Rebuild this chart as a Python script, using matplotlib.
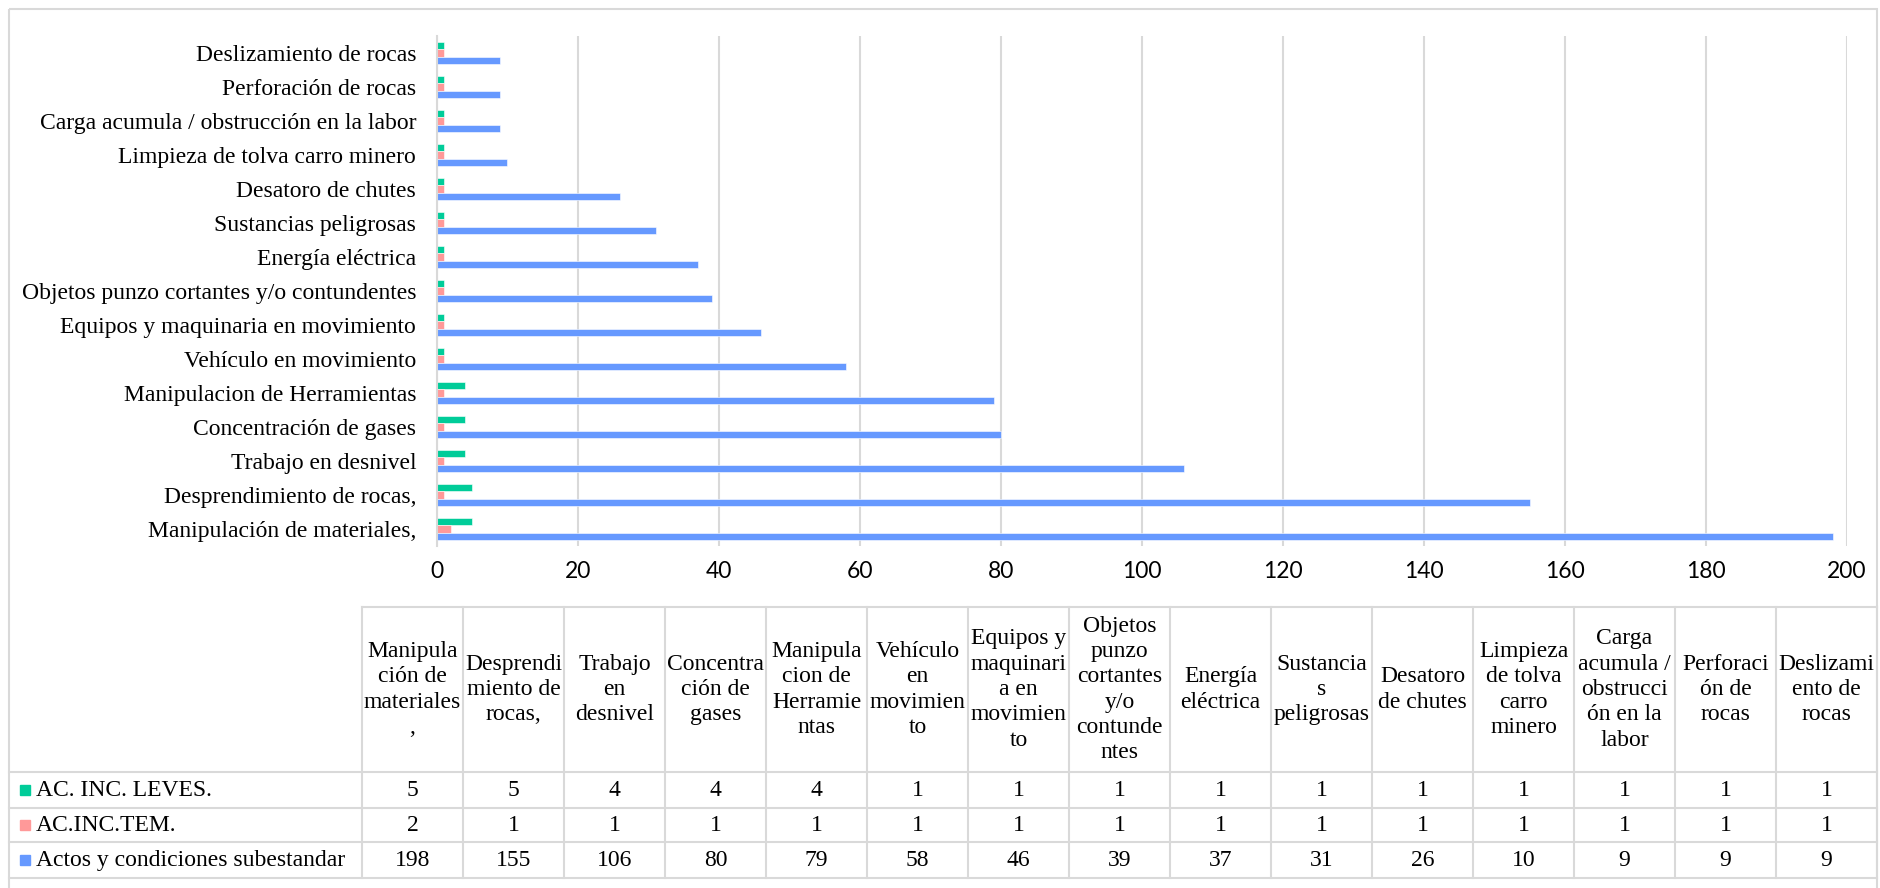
import numpy as np
import matplotlib.pyplot as plt
from matplotlib.patches import Rectangle

# Datos por tipo de peligro
categorias = ['Manipulación de materiales,', 'Desprendimiento de rocas,', 'Trabajo en desnivel',
              'Concentración de gases', 'Manipulacion de Herramientas', 'Vehículo en movimiento',
              'Equipos y maquinaria en movimiento', 'Objetos punzo cortantes y/o contundentes',
              'Energía eléctrica', 'Sustancias peligrosas', 'Desatoro de chutes',
              'Limpieza de tolva carro minero', 'Carga acumula / obstrucción en la labor',
              'Perforación de rocas', 'Deslizamiento de rocas']
cabeceras = ['Manipula\nción de\nmateriales\n,', 'Desprendi\nmiento de\nrocas,', 'Trabajo\nen\ndesnivel',
             'Concentra\nción de\ngases', 'Manipula\ncion de\nHerramie\nntas', 'Vehículo\nen\nmovimien\nto',
             'Equipos y\nmaquinari\na en\nmovimien\nto', 'Objetos\npunzo\ncortantes\ny/o\ncontunde\nntes',
             'Energía\neléctrica', 'Sustancia\ns\npeligrosas', 'Desatoro\nde chutes',
             'Limpieza\nde tolva\ncarro\nminero', 'Carga\nacumula /\nobstrucci\nón en la\nlabor',
             'Perforaci\nón de\nrocas', 'Deslizami\nento de\nrocas']
leves = [5, 5, 4, 4, 4, 1, 1, 1, 1, 1, 1, 1, 1, 1, 1]
temporales = [2, 1, 1, 1, 1, 1, 1, 1, 1, 1, 1, 1, 1, 1, 1]
subestandar = [198, 155, 106, 80, 79, 58, 46, 39, 37, 31, 26, 10, 9, 9, 9]
series = ['AC. INC. LEVES.', 'AC.INC.TEM.', 'Actos y condiciones subestandar']
colores = ['#00CC99', '#FF9999', '#6699FF']

W, H = 1881, 888
serif = 'Liberation Serif'
gris = '#D9D9D9'

fig = plt.figure(figsize=(W / 100, H / 100), dpi=100)

# grafico de barras
ax = fig.add_axes([437 / W, 1 - 546 / H, 1410 / W, 510 / H])
y = np.arange(len(categorias))
h = 0.21
ax.barh(y + h, leves, h, color=colores[0], ec='white', lw=0.4)
ax.barh(y, temporales, h, color=colores[1], ec='white', lw=0.4)
ax.barh(y - h, subestandar, h, color=colores[2], ec='white', lw=0.4)
ax.set_xlim(0, 200)
ax.set_ylim(-0.5, len(categorias) - 0.5)
ax.set_xticks(range(0, 201, 20))
ax.set_yticks(y)
ax.set_yticklabels(categorias, fontsize=17, family=serif)
for lab in ax.get_xticklabels():
    lab.set_fontfamily('Lato')
    lab.set_fontsize(16.5)
ax.tick_params(axis='y', length=0, pad=15)
ax.tick_params(axis='x', length=0, pad=11)
ax.grid(axis='x', color=gris, lw=1.5)
ax.set_axisbelow(True)
for s in ['top', 'right', 'bottom']:
    ax.spines[s].set_visible(False)
ax.spines['left'].set_color(gris)
ax.spines['left'].set_linewidth(1.5)

# tabla de datos debajo
tab = fig.add_axes([0, 0, 1, 1], facecolor='none')
tab.set_xlim(0, W)
tab.set_ylim(H, 0)
tab.axis('off')

x0, cw = 362, 101
x1 = x0 + cw * len(categorias)
top, hdr = 607, 772
filas = [hdr, 808, 842, 878]

tab.add_patch(Rectangle((9, 9), x1 - 9, 890, fill=False, ec=gris, lw=1.5))
tab.plot([x0, x1], [top, top], color=gris, lw=1.5)
for yy in filas:
    tab.plot([9, x1], [yy, yy], color=gris, lw=1.5)
for i in range(len(categorias) + 1):
    tab.plot([x0 + i * cw] * 2, [top, filas[-1]], color=gris, lw=1.5)

for i, c in enumerate(cabeceras):
    tab.text(x0 + (i + 0.5) * cw, (top + hdr) / 2, c, ha='center', va='center',
             fontsize=17, family=serif, linespacing=1.27)

valores = [leves, temporales, subestandar]
for r, (nombre, col, vals) in enumerate(zip(series, colores, valores)):
    yc = (filas[r] + filas[r + 1]) / 2
    tab.add_patch(Rectangle((20, yc - 5), 10, 10, color=col))
    tab.text(36, yc, nombre, ha='left', va='center', fontsize=17, family=serif)
    for i, v in enumerate(vals):
        tab.text(x0 + (i + 0.5) * cw, yc, str(v), ha='center', va='center',
                 fontsize=17, family=serif)

fig.savefig('out.png', dpi=100)
